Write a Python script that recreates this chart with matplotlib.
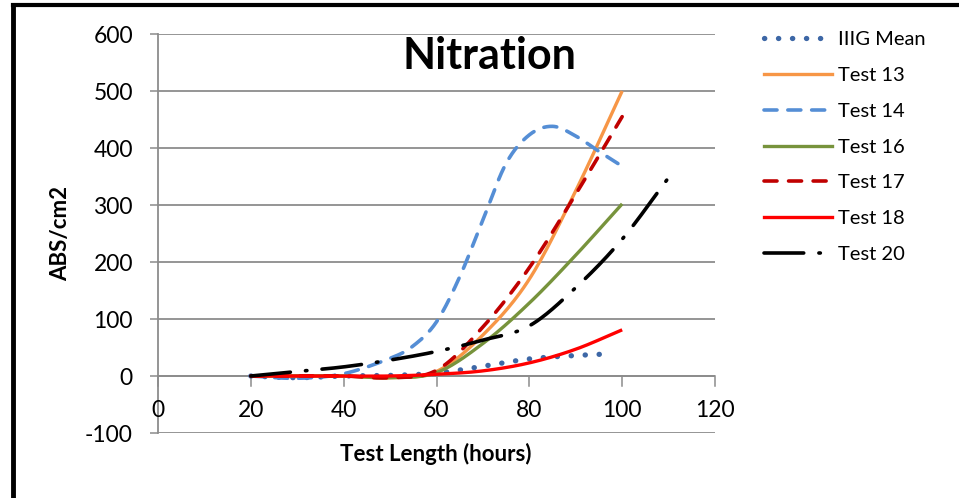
import numpy as np
import matplotlib
matplotlib.use("Agg")
import matplotlib.pyplot as plt
from matplotlib.lines import Line2D

plt.rcParams["font.family"] = ["Lato", "DejaVu Sans"]
plt.rcParams["axes.unicode_minus"] = False

# Nitration readings (ABS/cm2) against test length (hours)
iiig_hours = [20, 30, 40, 50, 60, 70, 80, 90, 98]
iiig_mean = [0, -3, 0, 1, 5, 17, 30, 36, 39]

t13_hours = [20, 30, 40, 50, 60, 70, 80, 90, 100]
test13 = [0, 0, 0, -3, 8, 72, 170, 325, 500]

t14_hours = [20, 30, 40, 50, 55, 60, 65, 70, 75, 80, 85, 90, 95, 100]
test14 = [0, -4, 4, 31, 53, 95, 174, 274, 373, 423, 438, 421, 394, 368]

t16_hours = [20, 30, 40, 50, 60, 70, 80, 90, 100]
test16 = [0, 0, 0, -3, 6, 57, 128, 212, 302]

t17_hours = [20, 30, 40, 50, 60, 70, 80, 90, 100]
test17 = [0, 0, 0, -3, 10, 86, 190, 319, 455]

t18_hours = [20, 30, 40, 50, 60, 70, 80, 90, 100]
test18 = [0, 0, 0, 0, 3, 9, 23, 47, 81]

t20_hours = [20, 30, 40, 50, 60, 70, 80, 90, 100, 110]
test20 = [0, 8, 16, 28, 43, 63, 88, 155, 240, 348]

x_ticks = [0, 20, 40, 60, 80, 100, 120]
y_ticks = [-100, 0, 100, 200, 300, 400, 500, 600]


def smooth(xs, ys, n=24):
    """Catmull-Rom curve through the points, like a smoothed spreadsheet line."""
    p = np.column_stack([xs, ys]).astype(float)
    p = np.vstack([2 * p[0] - p[1], p, 2 * p[-1] - p[-2]])
    out = []
    for i in range(1, len(p) - 2):
        p0, p1, p2, p3 = p[i - 1], p[i], p[i + 1], p[i + 2]
        t = np.linspace(0, 1, n, endpoint=False)[:, None]
        seg = 0.5 * ((2 * p1) + (-p0 + p2) * t
                     + (2 * p0 - 5 * p1 + 4 * p2 - p3) * t ** 2
                     + (-p0 + 3 * p1 - 3 * p2 + p3) * t ** 3)
        out.append(seg)
    out.append(p[-2][None, :])
    c = np.vstack(out)
    return c[:, 0], c[:, 1]


fig = plt.figure(figsize=(9.59, 4.98), dpi=100)
ax = fig.add_axes([158 / 959, 1 - 433 / 498, (715 - 158) / 959, (433 - 34) / 498])

series = [
    ("IIIG Mean", iiig_hours, iiig_mean, dict(color="#3D67A6", lw=3.8, linestyle=(0, (0.05, 2.6)), dash_capstyle="round")),
    ("Test 13", t13_hours, test13, dict(color="#F79646", lw=2.4, linestyle="-")),
    ("Test 14", t14_hours, test14, dict(color="#558ED5", lw=2.6, linestyle=(0, (3.6, 3.0)), dash_capstyle="round")),
    ("Test 16", t16_hours, test16, dict(color="#77933C", lw=2.4, linestyle="-")),
    ("Test 17", t17_hours, test17, dict(color="#C00000", lw=2.6, linestyle=(0, (3.6, 3.2)), dash_capstyle="round")),
    ("Test 18", t18_hours, test18, dict(color="#FF0000", lw=2.4, linestyle="-")),
    ("Test 20", t20_hours, test20, dict(color="#000000", lw=2.6, linestyle=(0, (11, 4.2, 0.4, 4.2)), dash_capstyle="round")),
]

handles = []
for name, xs, ys, style in series:
    sx, sy = smooth(xs, ys)
    ax.plot(sx, sy, solid_capstyle="butt", zorder=3, **style)
    handles.append(Line2D([], [], **style))

ax.set_xlim(0, 120)
ax.set_ylim(-100, 600)
ax.set_xticks(x_ticks)
ax.set_yticks(y_ticks)

ax.yaxis.grid(True, color="#8C8C8C", lw=1.3)
ax.set_axisbelow(True)
for s in ("top", "right", "bottom"):
    ax.spines[s].set_visible(False)
ax.spines["left"].set_color("#8C8C8C")
ax.spines["left"].set_linewidth(1.3)

# Horizontal axis sits at y = 0 with its tick labels just below it
ax.axhline(0, color="#8C8C8C", lw=1.3, zorder=1)
ax.tick_params(axis="y", length=6, width=1.1, color="#8C8C8C", pad=12, labelsize=16.5, labelcolor="black")
ax.tick_params(axis="x", length=0, pad=0, labelsize=16.5, labelbottom=False)
for xv in x_ticks:
    ax.plot([xv, xv], [0, -18], color="#8C8C8C", lw=1.1, clip_on=False, zorder=1)
    ax.text(xv, -60, str(xv), ha="center", va="center", fontsize=16.5)

ax.set_ylabel("ABS/cm2", fontsize=16, fontweight="bold", labelpad=10)
ax.text(436 / 959, 1 - 454 / 498, "Test Length (hours)", transform=fig.transFigure, ha="center", va="center",
        fontsize=16, fontweight="bold")
ax.text(489 / 959, 1 - 56 / 498, "Nitration", transform=fig.transFigure, ha="center", va="center",
        fontsize=31, fontweight="bold")

fig.legend(handles, [s[0] for s in series], loc="upper left", bbox_to_anchor=(756 / 959, 1 - 23 / 498),
           frameon=False, fontsize=14.5, handlelength=3.35, handletextpad=0.3, labelspacing=0.93,
           borderaxespad=0)

# Frame lines along the top and left edges
fig.add_artist(Line2D([13 / 959, 1], [1 - 5 / 498, 1 - 5 / 498], color="black", lw=3, transform=fig.transFigure))
fig.add_artist(Line2D([13 / 959, 13 / 959], [0, 1 - 5 / 498], color="black", lw=3.5, transform=fig.transFigure))

fig.savefig("out.png", dpi=100)
